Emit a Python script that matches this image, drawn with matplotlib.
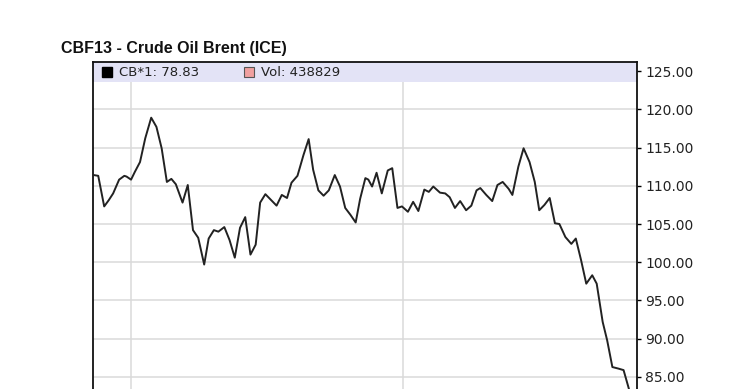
import numpy as np
import pandas as pd
import matplotlib
matplotlib.use('Agg')
import matplotlib.pyplot as plt
import matplotlib.dates as mdates
from matplotlib.patches import Rectangle
from matplotlib.ticker import FormatStrFormatter

# weekly-ish closes
dates = ['2012-11-12', '2012-11-18', '2012-11-26', '2012-12-02', '2012-12-08',
         '2012-12-16', '2012-12-23', '2012-12-26', '2013-01-01', '2013-01-06',
         '2013-01-13', '2013-01-20', '2013-01-28', '2013-02-04', '2013-02-11',
         '2013-02-18', '2013-02-24', '2013-03-02', '2013-03-11', '2013-03-18',
         '2013-03-25', '2013-04-01', '2013-04-09', '2013-04-15', '2013-04-22',
         '2013-04-28', '2013-05-06', '2013-05-13', '2013-05-20', '2013-05-27',
         '2013-06-03', '2013-06-10', '2013-06-17', '2013-06-23', '2013-06-30',
         '2013-07-08', '2013-07-15', '2013-07-22', '2013-07-29', '2013-08-04',
         '2013-08-12', '2013-08-20', '2013-08-27', '2013-09-02', '2013-09-09',
         '2013-09-16', '2013-09-23', '2013-10-01', '2013-10-08', '2013-10-15',
         '2013-10-22', '2013-10-29', '2013-11-04', '2013-11-11', '2013-11-15',
         '2013-11-20', '2013-11-26', '2013-12-03', '2013-12-11', '2013-12-17',
         '2013-12-24', '2013-12-30', '2014-01-07', '2014-01-14', '2014-01-21',
         '2014-01-29', '2014-02-04', '2014-02-10', '2014-02-19', '2014-02-26',
         '2014-03-04', '2014-03-11', '2014-03-18', '2014-03-26', '2014-04-02',
         '2014-04-09', '2014-04-14', '2014-04-22', '2014-04-30', '2014-05-07',
         '2014-05-14', '2014-05-22', '2014-05-27', '2014-06-04', '2014-06-11',
         '2014-06-19', '2014-06-26', '2014-07-02', '2014-07-09', '2014-07-16',
         '2014-07-23', '2014-07-29', '2014-08-06', '2014-08-14', '2014-08-20',
         '2014-08-27', '2014-09-03', '2014-09-11', '2014-09-17', '2014-09-25',
         '2014-10-01', '2014-10-08', '2014-10-16', '2014-10-23', '2014-10-30',
         '2014-11-05']
prices = [111.4, 111.3, 107.3, 108.1, 109.0, 110.8, 111.3, 111.2, 110.8, 111.8,
          113.1, 116.2, 118.9, 117.7, 114.9, 110.5, 110.9, 110.2, 107.8, 110.1,
          104.2, 103.2, 99.7, 103.1, 104.2, 104.0, 104.6, 102.9, 100.6, 104.5,
          105.9, 101.0, 102.3, 107.8, 108.9, 108.1, 107.4, 108.8, 108.4, 110.4,
          111.3, 114.0, 116.1, 112.1, 109.4, 108.7, 109.4, 111.4, 109.9, 107.1,
          106.2, 105.2, 108.3, 111.0, 110.8, 109.9, 111.7, 109.0, 112.0, 112.3,
          107.1, 107.3, 106.6, 107.9, 106.7, 109.5, 109.2, 109.9, 109.1, 109.0,
          108.5, 107.1, 108.0, 106.8, 107.4, 109.4, 109.7, 108.8, 108.0, 110.1,
          110.5, 109.6, 108.8, 112.5, 114.9, 113.1, 110.5, 106.8, 107.5, 108.4,
          105.1, 105.0, 103.3, 102.4, 103.1, 100.3, 97.2, 98.3, 97.2, 92.2,
          89.8, 86.3, 86.1, 85.9, 83.5, 78.83]

title = 'CBF13 - Crude Oil Brent (ICE)'
last_label = 'CB*1: 78.83'
vol_label = 'Vol: 438829'
yticks = [85, 90, 95, 100, 105, 110, 115, 120, 125]

x = pd.to_datetime(dates)

fig = plt.figure(figsize=(7.4, 3.89), dpi=100)
W, H = 740, 389
ax = fig.add_axes([93 / W, 0, 544 / W, 327 / H])

ax.plot(x, prices, color='#222222', lw=1.4, zorder=3)

ax.set_xlim(pd.Timestamp('2012-11-11'), pd.Timestamp('2014-11-10'))
ax.set_ylim(83.43, 126.18)

# vertical lines at the year boundaries, no x labels (cut off)
ax.xaxis.set_major_locator(mdates.YearLocator())
ax.tick_params(axis='x', length=0, labelbottom=False)

ax.yaxis.tick_right()
ax.set_yticks(yticks)
ax.yaxis.set_major_formatter(FormatStrFormatter('%.2f'))
ax.tick_params(axis='y', direction='out', length=3, width=1, pad=3,
               labelsize=10, labelcolor='#222222')

ax.grid(True, color='#dadada', lw=1.1)
ax.set_axisbelow(True)

for side in ['left', 'right', 'top']:
    ax.spines[side].set_color('#111111')
    ax.spines[side].set_linewidth(1.3)
ax.spines['bottom'].set_visible(False)

# legend band along the top of the plot
band_h = 20 / 327
ax.add_patch(Rectangle((0, 1 - band_h), 1, band_h, transform=ax.transAxes,
                       facecolor='#e3e3f6', edgecolor='none', zorder=0.6))
yb = 1 - band_h / 2
ax.plot([0.0257], [yb], marker='s', ms=6.5, color='black',
        transform=ax.transAxes, clip_on=False, zorder=4)
ax.text(0.0478, yb, last_label, transform=ax.transAxes, fontsize=9.5,
        va='center', ha='left', color='#222222', zorder=4)
ax.plot([0.286], [yb], marker='s', ms=6.5, markerfacecolor='#f0a0a0',
        markeredgecolor='#555555', markeredgewidth=0.8,
        transform=ax.transAxes, clip_on=False, zorder=4)
ax.text(0.309, yb, vol_label, transform=ax.transAxes, fontsize=9.5,
        va='center', ha='left', color='#222222', zorder=4)

fig.text(61 / W, 1 - 49 / H, title, fontsize=11.5, fontweight='bold',
         family='Liberation Sans', va='center', ha='left', color='#111111')

fig.savefig('out.png', dpi=100)
